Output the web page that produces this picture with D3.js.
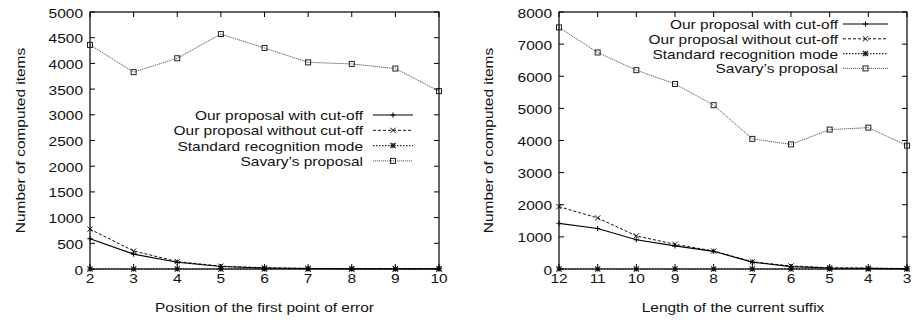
<!DOCTYPE html>
<html>
<head>
<meta charset="utf-8">
<script src="https://cdn.jsdelivr.net/npm/d3@7"></script>
<style>
  body { margin: 0; background: #fff; }
  svg text { font-family: "Liberation Sans", Arial, sans-serif; font-size: 13px; fill: #111; }
</style>
</head>
<body>
<svg id="chart" width="912" height="320"></svg>
<script>
// data
var seriesNames = ["Our proposal with cut-off", "Our proposal without cut-off", "Standard recognition mode", "Savary\u2019s proposal"];

var leftX = [2, 3, 4, 5, 6, 7, 8, 9, 10];
var leftCutoff   = [590, 290, 130, 48, 20, 10, 6, 5, 5];
var leftNoCutoff = [775, 350, 145, 55, 25, 12, 7, 6, 6];
var leftStandard = [0, 0, 0, 0, 0, 0, 0, 0, 0];
var leftSavary   = [4360, 3830, 4100, 4570, 4300, 4020, 3990, 3900, 3460];
var leftYTicks = [0, 500, 1000, 1500, 2000, 2500, 3000, 3500, 4000, 4500, 5000];

var rightX = [12, 11, 10, 9, 8, 7, 6, 5, 4, 3];
var rightCutoff   = [1420, 1260, 910, 720, 550, 215, 75, 30, 18, 10];
var rightNoCutoff = [1940, 1590, 1030, 770, 560, 225, 95, 40, 28, 15];
var rightStandard = [0, 0, 0, 0, 0, 0, 0, 0, 0, 0];
var rightSavary   = [7520, 6740, 6190, 5760, 5100, 4050, 3880, 4340, 4400, 3840];
var rightYTicks = [0, 1000, 2000, 3000, 4000, 5000, 6000, 7000, 8000];

var styles = [
  { stroke: "#000", dash: null, width: 1.1, marker: "plus" },
  { stroke: "#111", dash: "3,2", width: 1, marker: "cross" },
  { stroke: "#222", dash: "1.5,1.5", width: 1.2, marker: "star" },
  { stroke: "#5a5a5a", dash: "1.2,0.8", width: 1, marker: "square" }
];

var svg = d3.select("#chart");
var SX = 1.19; // glyphs in the picture are a bit wider than normal

function label(g, x, y, str, anchor, rot) {
  return g.append("text")
    .attr("transform", "translate(" + x + "," + y + ")" + (rot ? " rotate(-90)" : "") + " scale(" + SX + ",1)")
    .attr("text-anchor", anchor)
    .text(str);
}

function marker(g, type, x, y, color) {
  var s = 2.6;
  if (type == "plus") {
    g.append("path").attr("d", "M" + (x - s) + "," + y + "H" + (x + s) + "M" + x + "," + (y - s) + "V" + (y + s))
      .attr("stroke", color).attr("stroke-width", 1);
  } else if (type == "cross") {
    g.append("path").attr("d", "M" + (x - s) + "," + (y - s) + "L" + (x + s) + "," + (y + s) + "M" + (x - s) + "," + (y + s) + "L" + (x + s) + "," + (y - s))
      .attr("stroke", color).attr("stroke-width", 1);
  } else if (type == "star") {
    g.append("path").attr("d", "M" + (x - s) + "," + y + "H" + (x + s) + "M" + x + "," + (y - s) + "V" + (y + s) +
      "M" + (x - s) + "," + (y - s) + "L" + (x + s) + "," + (y + s) + "M" + (x - s) + "," + (y + s) + "L" + (x + s) + "," + (y - s))
      .attr("stroke", color).attr("stroke-width", 1.2);
  } else {
    g.append("rect").attr("x", x - 2.5).attr("y", y - 2.5).attr("width", 5).attr("height", 5)
      .attr("fill", "none").attr("stroke", "#222").attr("stroke-width", 1);
  }
}

function drawChart(o) {
  var g = svg.append("g");
  var x = d3.scaleLinear().domain(o.xDomain).range([o.left, o.right]);
  var y = d3.scaleLinear().domain(o.yDomain).range([o.bottom, o.top]);

  // ticks (inside, mirrored)
  var tk = 5;
  o.xs.forEach(function(v) {
    g.append("line").attr("x1", x(v)).attr("x2", x(v)).attr("y1", o.bottom).attr("y2", o.bottom - tk).attr("stroke", "#000");
    g.append("line").attr("x1", x(v)).attr("x2", x(v)).attr("y1", o.top).attr("y2", o.top + tk).attr("stroke", "#000");
    label(g, x(v), o.bottom + 14, v, "middle");
  });
  o.yTicks.forEach(function(v) {
    g.append("line").attr("x1", o.left).attr("x2", o.left + tk).attr("y1", y(v)).attr("y2", y(v)).attr("stroke", "#000");
    g.append("line").attr("x1", o.right).attr("x2", o.right - tk).attr("y1", y(v)).attr("y2", y(v)).attr("stroke", "#000");
    label(g, o.left - 7, y(v) + 5.5, v, "end");
  });

  // series
  var line = d3.line().x(function(d) { return x(d[0]); }).y(function(d) { return y(d[1]); });
  var order = [3, 2, 1, 0];
  order.forEach(function(i) {
    var st = styles[i];
    var pts = o.xs.map(function(v, j) { return [v, o.series[i][j]]; });
    g.append("path").attr("d", line(pts)).attr("fill", "none")
      .attr("stroke", st.stroke).attr("stroke-width", st.width)
      .attr("stroke-dasharray", st.dash);
    pts.forEach(function(p) { marker(g, st.marker, x(p[0]), y(p[1]), st.stroke); });
  });

  // frame
  g.append("rect").attr("x", o.left).attr("y", o.top)
    .attr("width", o.right - o.left).attr("height", o.bottom - o.top)
    .attr("fill", "none").attr("stroke", "#000").attr("stroke-width", 1.2);

  // legend
  seriesNames.forEach(function(name, i) {
    var ly = o.legY + i * o.legStep;
    var st = styles[i];
    label(g, o.legTextX, ly + 5, name, "end");
    g.append("line").attr("x1", o.legX0).attr("x2", o.legX1).attr("y1", ly).attr("y2", ly)
      .attr("stroke", st.stroke).attr("stroke-width", st.width).attr("stroke-dasharray", st.dash);
    marker(g, st.marker, (o.legX0 + o.legX1) / 2, ly, st.stroke);
  });

  // axis titles
  label(g, (o.left + o.right) / 2, 312, o.xTitle, "middle");
  label(g, o.yTitleX, (o.top + o.bottom) / 2, "Number of computed items", "middle", true);
}

drawChart({
  xs: leftX, xDomain: [2, 10], yDomain: [0, 5000], yTicks: leftYTicks,
  series: [leftCutoff, leftNoCutoff, leftStandard, leftSavary],
  left: 90, right: 439, top: 12, bottom: 269,
  legTextX: 363, legX0: 373, legX1: 413, legY: 115, legStep: 15.3,
  xTitle: "Position of the first point of error", yTitleX: 25
});

drawChart({
  xs: rightX, xDomain: [12, 3], yDomain: [0, 8000], yTicks: rightYTicks,
  series: [rightCutoff, rightNoCutoff, rightStandard, rightSavary],
  left: 559, right: 907, top: 12, bottom: 269,
  legTextX: 838, legX0: 843, legX1: 888, legY: 24, legStep: 14.8,
  xTitle: "Length of the current suffix", yTitleX: 493
});
</script>
</body>
</html>
